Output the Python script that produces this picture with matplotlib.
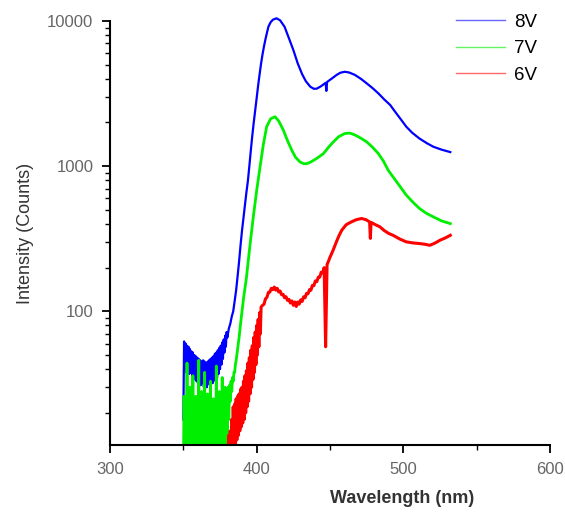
import matplotlib
matplotlib.use("Agg")
import matplotlib.pyplot as plt
from matplotlib.ticker import LogLocator, NullFormatter, FixedLocator

plt.rcParams['font.family'] = ['Liberation Sans', 'DejaVu Sans']
plt.rcParams['path.simplify'] = False

# ---- data ----
wl_8v = [350, 350.5, 351, 351.5, 352, 352.5, 353, 353.5, 354, 354.5, 355, 355.5, 356, 356.5, 357, 357.5,
         358, 358.5, 359, 359.5, 360, 360.5, 361, 361.5, 362, 362.5, 363, 363.5, 364, 364.5, 365, 365.5,
         366, 366.5, 367, 367.5, 368, 368.5, 369, 369.5, 370, 370.5, 371, 371.5, 372, 372.5, 373, 373.5,
         374, 374.5, 375, 375.5, 376, 376.5, 377, 377.5, 378, 378.5, 379, 379.5,
         380, 381, 382, 383, 384, 385, 386, 387, 388, 389,
         390, 391, 392, 393, 394, 395, 396, 397, 398, 399, 400, 401, 402, 403, 404, 405, 406, 407, 408, 409.5,
         411, 413.5, 416, 419, 422, 425, 428, 431, 433.5, 436.5, 439, 441, 444, 447, 447.5, 448, 451, 454.5, 457, 460,
         463, 467, 471, 475, 479, 483, 487, 491, 494, 498, 502, 506, 511, 516, 520.5, 526, 532]
int_8v = [18, 62, 40, 60, 38, 58, 41, 57, 37, 55, 38, 53, 36, 52, 35, 50,
          34, 49, 33, 48, 32, 47, 33, 46, 31, 45, 32, 46, 30, 45, 31, 44,
          30, 45, 32, 46, 31, 47, 33, 48, 32, 49, 34, 51, 33, 52, 35, 54,
          37, 56, 40, 58, 43, 61, 47, 64, 52, 68, 57, 72,
          66, 76, 82, 92, 100, 118, 140, 175, 220, 285,
          360, 440, 540, 660, 790, 1000, 1280, 1620, 2000, 2430, 2950, 3600, 4300, 5100, 5900, 6700, 7500, 8300, 9130, 9800,
          10200, 10440, 10100, 9130, 7600, 6310, 5100, 4300, 3850, 3530, 3410, 3420, 3560, 3750, 3300, 3800, 4000, 4250, 4400, 4470,
          4420, 4250, 4000, 3720, 3450, 3170, 2880, 2640, 2400, 2120, 1870, 1700, 1550, 1440, 1360, 1300, 1250]

wl_7v = [350, 350.5, 351, 351.5, 352, 352.5, 353, 353.5, 354, 354.5, 355, 355.5, 356, 356.5, 357, 357.5,
         358, 358.5, 359, 359.5, 360, 360.5, 361, 361.5, 362, 362.5, 363, 363.5, 364, 364.5, 365, 365.5,
         366, 366.5, 367, 367.5, 368, 368.5, 369, 369.5, 370, 370.5, 371, 371.5, 372, 372.5, 373, 373.5,
         374, 374.5, 375, 375.5, 376, 376.5, 377, 377.5, 378, 378.5, 379, 379.5, 380, 380.5, 381, 381.5,
         382, 382.5, 383, 383.5, 384, 384.5, 385, 385.5, 386, 387, 388, 389,
         390, 391, 393, 395.5, 397.7, 400, 402.3, 404.5, 406.8, 409.5, 412.5, 415, 418.2, 421, 423.9, 426.5,
         429.5, 432, 434.1, 437, 440.9, 443, 445.5, 449, 452.3, 456, 460.2, 463.5, 467, 471, 475, 479, 483,
         486.5, 489.7, 493, 497.5, 502, 506.5, 511, 515.5, 520.5, 526, 532]
int_7v = [8, 26, 9, 22, 8, 44, 10, 24, 9, 30, 8, 21, 10, 36, 9, 23,
          8, 26, 10, 21, 9, 46, 8, 24, 10, 28, 9, 22, 8, 38, 10, 23,
          9, 27, 8, 22, 10, 33, 9, 21, 8, 25, 10, 24, 9, 42, 8, 25,
          10, 28, 9, 24, 10, 35, 9, 27, 10, 30, 11, 28, 14, 30, 18, 31,
          24, 33, 28, 35, 33, 38, 38, 43, 46, 55, 66, 82,
          100, 122, 170, 290, 447, 680, 988, 1400, 1870, 2120, 2190, 2050, 1770, 1500, 1290, 1150,
          1070, 1040, 1040, 1070, 1130, 1170, 1220, 1350, 1470, 1600, 1680, 1690, 1640, 1560, 1470, 1350, 1220,
          1080, 937, 843, 730, 632, 565, 511, 475, 447, 420, 402]

wl_6v = [378.5, 379, 379.5, 380, 380.5, 381, 381.5, 382, 382.5, 383, 383.5, 384, 384.5, 385, 385.5, 386, 386.5,
         387, 387.5, 388, 388.5, 389, 389.5, 390, 390.5, 391, 391.5, 392, 392.5, 393, 393.5, 394, 394.5,
         395, 395.5, 396, 396.5, 397, 397.5, 398, 398.5, 399, 399.5, 400, 400.5, 401, 401.5, 402, 402.5,
         403, 404, 405, 406, 407, 408, 409, 410, 411, 412, 413, 414, 415, 416, 417, 418,
         419, 420, 421, 422, 423, 424, 425, 426, 427, 428, 429, 430, 431, 432, 433, 434, 435, 436, 437, 438,
         439, 440, 441, 442, 443, 444, 445, 446, 447, 448, 449, 450, 452, 454, 456, 458, 461, 464.5, 468, 471.5,
         474.5, 477, 477.5, 478, 481, 484, 487, 490, 493, 497.5, 502, 506.5, 511, 514.5, 518, 521.5, 525, 528.5, 532]
int_6v = [8, 11, 7, 12, 8, 14, 8, 15, 9, 18, 10, 22, 11, 23, 12, 25, 13,
          26, 14, 27, 15, 29, 16, 30, 17, 33, 18, 36, 20, 39, 22, 44, 24,
          48, 27, 54, 30, 58, 34, 66, 38, 72, 43, 80, 50, 88, 57, 98, 70,
          107, 110, 112, 122, 125, 135, 136, 144, 141, 147, 140, 144, 136, 138, 130, 131,
          124, 126, 119, 121, 114, 118, 110, 116, 108, 116, 112, 120, 117, 126, 124, 133, 132, 141, 140, 151,
          150, 162, 160, 172, 172, 186, 184, 200, 57, 210, 222, 236, 262, 295, 330, 362, 395, 413, 428, 436,
          428, 413, 318, 410, 395, 382, 360, 344, 334, 315, 301, 296, 293, 290, 285, 295, 309, 320, 334]

series = [("8V", wl_8v, int_8v, "#0000ff", 1.6),
          ("7V", wl_7v, int_7v, "#00ee00", 2.0),
          ("6V", wl_6v, int_6v, "#ff0000", 2.2)]

x_ticks = [300, 400, 500, 600]
y_ticks = [100, 1000, 10000]

fig = plt.figure(figsize=(5.65, 5.16), dpi=100)
ax = fig.add_axes([0.1947, 0.1376, 0.7788, 0.8217])

for label, wl, val, col, lw in series:
    ax.plot(wl, val, color=col, lw=lw, label=label, clip_on=(label != "8V"),
            solid_joinstyle='round')

ax.set_yscale('log')
ax.set_xlim(300, 600)
ax.set_ylim(12, 10000)
ax.xaxis.set_major_locator(FixedLocator(x_ticks))
ax.xaxis.set_minor_locator(FixedLocator([350, 450, 550]))
ax.yaxis.set_major_locator(FixedLocator(y_ticks))
ax.yaxis.set_minor_locator(LogLocator(base=10, subs=range(2, 10)))
ax.yaxis.set_minor_formatter(NullFormatter())
ax.set_yticklabels([str(v) for v in y_ticks])
ax.set_xticklabels([str(v) for v in x_ticks])

for s in ['top', 'right']:
    ax.spines[s].set_visible(False)
for s in ['left', 'bottom']:
    ax.spines[s].set_linewidth(1.5)
ax.tick_params(which='major', direction='out', length=6, width=1.3, labelsize=12,
               labelcolor='#666666', pad=6)
ax.tick_params(which='minor', direction='out', length=3.5, width=1.0)

ax.set_xlabel("Wavelength (nm)", fontsize=13, fontweight='bold', color='#333333')
ax.xaxis.set_label_coords(0.665, -0.105)
ax.set_ylabel("Intensity (Counts)", fontsize=13, color='#333333')
ax.yaxis.set_label_coords(-0.172, 0.5)

leg_handles = []
for label, wl, val, col, lw in series:
    l, = ax.plot([], [], color=col, lw=1.0, alpha=0.6, label=label)
    leg_handles.append(l)
ax.legend(handles=leg_handles, loc='upper left', bbox_to_anchor=(0.77, 1.035),
          frameon=False, fontsize=13.5, handlelength=2.6, handletextpad=0.5,
          labelspacing=0.5, borderaxespad=0)

fig.savefig("out.png", dpi=100)
